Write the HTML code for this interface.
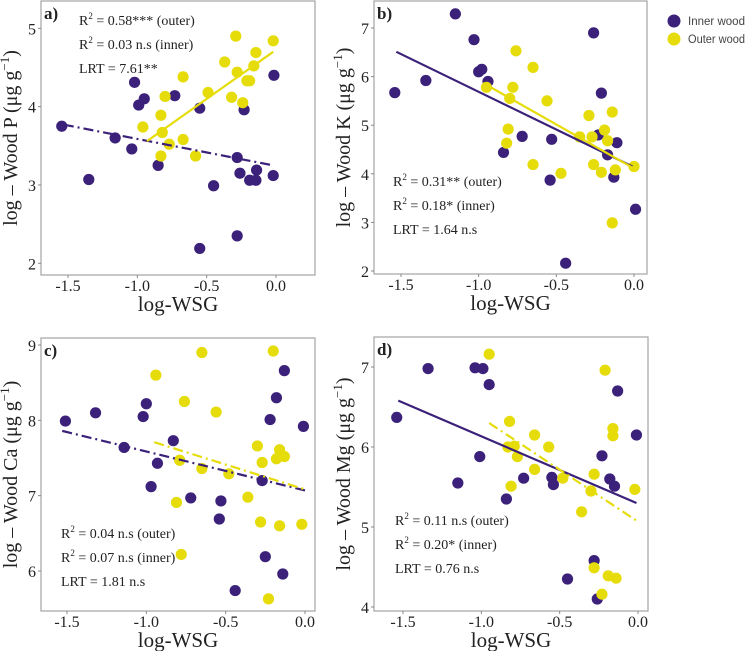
<!DOCTYPE html>
<html><head><meta charset="utf-8"><style>
html,body{margin:0;padding:0;background:#fff;width:749px;height:651px;overflow:hidden}
svg text{font-family:"Liberation Serif",serif;fill:#222}
</style></head><body>
<svg id="c" width="749" height="651" xmlns="http://www.w3.org/2000/svg"></svg>
<script>
// Panel a (P)
const aInnerX=[-1.545,-1.35,-1.16,-1.04,-1.02,-0.99,-0.95,-0.85,-0.73,-0.55,-0.45,-0.55,-0.28,-0.28,-0.26,-0.23,-0.19,-0.145,-0.14,-0.02,-0.015];
const aInnerY=[3.75,3.07,3.60,3.46,4.31,4.02,4.10,3.25,4.14,3.98,2.99,2.19,3.35,2.35,3.15,3.96,3.06,3.06,3.19,3.12,4.40];
const aOuterX=[-0.96,-0.83,-0.80,-0.82,-0.83,-0.77,-0.67,-0.67,-0.58,-0.49,-0.37,-0.32,-0.29,-0.28,-0.24,-0.21,-0.19,-0.16,-0.145,-0.02];
const aOuterY=[3.74,3.89,4.13,3.67,3.37,3.52,4.38,3.58,3.37,4.18,4.57,4.12,4.90,4.44,4.05,4.33,4.33,4.52,4.69,4.84];
const aInnerLine=[-1.53,3.77,-0.02,3.25];
const aOuterLine=[-0.93,3.56,-0.02,4.70];
// Panel b (K)
const bInnerX=[-1.54,-1.34,-1.15,-1.03,-1.00,-0.98,-0.94,-0.84,-0.72,-0.53,-0.54,-0.44,-0.26,-0.21,-0.23,-0.17,-0.11,-0.13,0.01];
const bInnerY=[5.67,5.92,7.29,6.76,6.10,6.15,5.90,4.44,4.77,4.71,3.87,2.16,6.90,5.66,4.80,4.39,4.64,3.93,3.27];
const bOuterX=[-0.76,-0.65,-0.95,-0.78,-0.80,-0.56,-0.81,-0.82,-0.65,-0.47,-0.29,-0.14,-0.35,-0.27,-0.19,-0.17,-0.26,-0.21,-0.12,0.00,-0.14];
const bOuterY=[6.53,6.19,5.78,5.78,5.55,5.50,4.92,4.63,4.19,4.01,5.20,5.27,4.76,4.76,4.90,4.68,4.19,4.03,4.08,4.15,2.99];
const bInnerLine=[-1.53,6.51,-0.01,4.15];
const bOuterLine=[-0.95,5.83,0.0,4.11];
// Panel c (Ca)
const cInnerX=[-1.51,-1.32,-1.14,-1.02,-1.00,-0.93,-0.97,-0.83,-0.72,-0.53,-0.54,-0.44,-0.27,-0.25,-0.22,-0.18,-0.13,-0.14,-0.01];
const cInnerY=[7.99,8.10,7.64,8.05,8.22,7.43,7.12,7.73,6.97,6.93,6.69,5.74,7.20,6.19,8.01,8.30,8.66,5.96,7.92];
const cOuterX=[-0.94,-0.65,-0.76,-0.56,-0.79,-0.81,-0.65,-0.48,-0.36,-0.78,-0.30,-0.27,-0.28,-0.20,-0.16,-0.18,-0.13,-0.16,-0.23,-0.02];
const cOuterY=[8.60,8.90,8.25,8.11,7.47,6.91,7.36,7.29,6.98,6.22,7.66,7.44,6.65,8.92,7.61,7.49,7.52,6.60,5.63,6.62];
const cInnerLine=[-1.53,7.86,0.0,7.07];
const cOuterLine=[-0.95,7.71,-0.01,7.09];
// Panel d (Mg)
const dInnerX=[-1.54,-1.34,-1.04,-0.99,-0.95,-1.01,-1.15,-0.84,-0.73,-0.55,-0.54,-0.45,-0.28,-0.26,-0.23,-0.18,-0.15,-0.13,-0.01];
const dInnerY=[6.37,6.98,6.99,6.98,6.78,5.88,5.55,5.35,5.61,5.62,5.53,4.35,4.58,4.10,5.89,5.60,5.51,6.70,6.15];
const dOuterX=[-0.95,-0.21,-0.82,-0.66,-0.57,-0.83,-0.79,-0.77,-0.66,-0.81,-0.48,-0.28,-0.30,-0.36,-0.16,-0.16,-0.02,-0.28,-0.19,-0.14,-0.23];
const dOuterY=[7.16,6.96,6.32,6.15,6.00,6.00,6.01,5.88,5.72,5.51,5.61,5.66,5.45,5.19,6.23,6.14,5.47,4.49,4.39,4.36,4.16];
const dInnerLine=[-1.53,6.58,-0.01,5.30];
const dOuterLine=[-0.95,6.30,-0.01,5.08];
const xTicks=[-1.5,-1.0,-0.5,0.0];
const xTickLabels=["-1.5","-1.0","-0.5","0.0"];
const aYTicks=[2,3,4,5];
const bYTicks=[2,3,4,5,6,7];
const cYTicks=[6,7,8,9];
const dYTicks=[4,5,6,7];

const NS="http://www.w3.org/2000/svg";
const svg=document.getElementById('c');
const PUR="#3b2179",YEL="#e6dc0a";
function mk(tag,attrs,parent){const e=document.createElementNS(NS,tag);for(const k in attrs)e.setAttribute(k,attrs[k]);(parent||svg).appendChild(e);return e;}

function panel(p){
  const g=mk('g',{});
  
  
  const sx=v=>p.x0+(v-(-1.5))*(p.x1-p.x0)/1.5;
  const sy=v=>p.yA+(v-p.vA)*(p.yB-p.yA)/(p.vB-p.vA);
  const box=mk('rect',{x:p.L,y:p.T,width:p.R-p.L,height:p.B-p.T,fill:'none',stroke:'#aaa','stroke-width':1.3},g);
  
  
  xTicks.forEach((t,i)=>{
    mk('line',{x1:sx(t),x2:sx(t),y1:p.B,y2:p.B+3,stroke:'#888'},g);
    const tx=mk('text',{x:sx(t),y:p.B+16,'text-anchor':'middle','font-size':16},g);
    tx.textContent=xTickLabels[i];
    
    
  });
  p.yt.forEach(t=>{
    mk('line',{x1:p.L-3,x2:p.L,y1:sy(t),y2:sy(t),stroke:'#888'},g);
    const tx=mk('text',{x:p.L-5,y:sy(t)+6,'text-anchor':'end','font-size':16},g);
    tx.textContent=String(t);
    
    
  });
  const xl=mk('text',{x:(p.L+p.R)/2,y:p.B+36,'text-anchor':'middle','font-size':21},g);
  xl.textContent='log-WSG';
  
  
  const cy=(p.T+p.B)/2;
  const yl=mk('text',{x:p.L-24,y:cy,'text-anchor':'middle','font-size':20,transform:`rotate(-90 ${p.L-24} ${cy})`},g);
  yl.innerHTML=`log – Wood ${p.el} (μg g<tspan font-size="13" dy="-8">−1</tspan><tspan dy="8">)</tspan>`;
  
  
  const lt=mk('text',{x:p.L+3,y:p.T+18,'font-size':17,'font-weight':'bold'},g);
  lt.textContent=p.id+')';
  
  
  p.notes.forEach((n,i)=>{
    const t=mk('text',{x:p.nx,y:p.ny+i*24,'font-size':14},g);
    t.innerHTML=n;
    
    
  });
  function pts(xs,ys,col,name){
    xs.forEach((x,i)=>{
      const c=mk('circle',{cx:sx(x),cy:sy(ys[i]),r:5.6,fill:col},g);
      
      
    });
  }
  function line(l,col,dash,name){
    const e=mk('line',{x1:sx(l[0]),y1:sy(l[1]),x2:sx(l[2]),y2:sy(l[3]),stroke:col,'stroke-width':2.2},g);
    if(dash)e.setAttribute('stroke-dasharray','10,4,2,4');
    
    
  }
  pts(p.ix,p.iy,PUR,'inner-wood-point');
  pts(p.ox,p.oy,YEL,'outer-wood-point');
  line(p.il,PUR,p.idash,'inner-trend-line');
  line(p.ol,YEL,p.odash,'outer-trend-line');
}
const R2='R<tspan font-size="9" dy="-6">2</tspan><tspan dy="6"> = ';
panel({id:'a',el:'P',L:41,R:315,T:1,B:275,x0:68,x1:276,vA:5,yA:28.3,vB:2,yB:263.3,yt:aYTicks,
  ix:aInnerX,iy:aInnerY,ox:aOuterX,oy:aOuterY,il:aInnerLine,ol:aOuterLine,idash:true,odash:false,
  nx:79,ny:25,notes:[R2+'0.58*** (outer)</tspan>',R2+'0.03 n.s (inner)</tspan>','LRT = 7.61**']});
panel({id:'b',el:'K',L:374,R:647,T:1,B:274,x0:401,x1:634,vA:7,yA:28,vB:2,yB:271,yt:bYTicks,
  ix:bInnerX,iy:bInnerY,ox:bOuterX,oy:bOuterY,il:bInnerLine,ol:bOuterLine,idash:false,odash:false,
  nx:393,ny:186,notes:[R2+'0.31** (outer)</tspan>',R2+'0.18* (inner)</tspan>','LRT = 1.64 n.s']});
panel({id:'c',el:'Ca',L:41,R:315,T:338,B:611,x0:67,x1:305,vA:9,yA:345,vB:6,yB:571,yt:cYTicks,
  ix:cInnerX,iy:cInnerY,ox:cOuterX,oy:cOuterY,il:cInnerLine,ol:cOuterLine,idash:true,odash:true,
  nx:61,ny:538,notes:[R2+'0.04 n.s (outer)</tspan>',R2+'0.07 n.s (inner)</tspan>','LRT = 1.81 n.s']});
panel({id:'d',el:'Mg',L:374,R:648,T:337,B:611,x0:403,x1:638,vA:7,yA:367,vB:4,yB:607,yt:dYTicks,
  ix:dInnerX,iy:dInnerY,ox:dOuterX,oy:dOuterY,il:dInnerLine,ol:dOuterLine,idash:false,odash:true,
  nx:395,ny:525,notes:[R2+'0.11 n.s (outer)</tspan>',R2+'0.20* (inner)</tspan>','LRT = 0.76 n.s']});
// legend
const lg=mk('g',{});


[['Inner wood',PUR,21],['Outer wood',YEL,39]].forEach(([t,c,y])=>{
  const ci=mk('circle',{cx:674,cy:y,r:6.5,fill:c},lg);
  
  
  const tx=mk('text',{x:688,y:y+4,'font-size':11.5,textLength:57,lengthAdjust:'spacingAndGlyphs',style:'font-family:"Liberation Sans",sans-serif;fill:#444'},lg);
  tx.textContent=t;
  
  
});
</script>
</body></html>
